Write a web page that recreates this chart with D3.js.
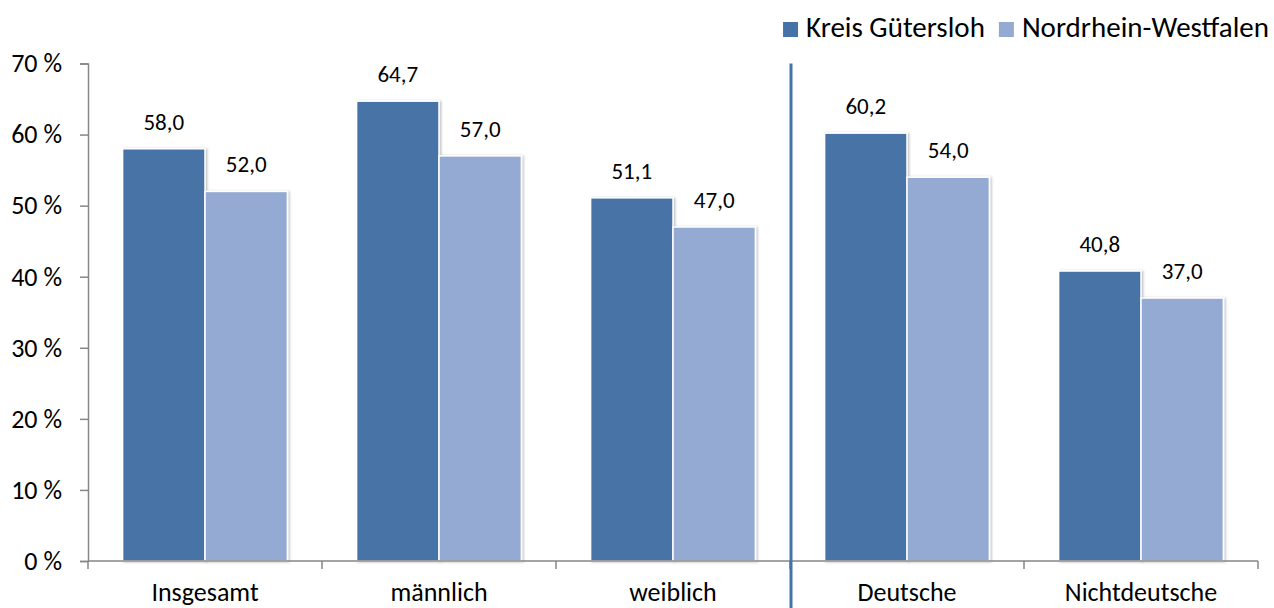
<!DOCTYPE html>
<html>
<head>
<meta charset="utf-8">
<script src="https://cdn.jsdelivr.net/npm/d3@7"></script>
<style>
  body { margin: 0; background: #fff; }
  svg { display: block; font-family: Carlito, Lato, "Open Sans", sans-serif; }
</style>
</head>
<body>
<svg id="chart" width="1274" height="608"></svg>
<script>
// data
const categories = ["Insgesamt", "männlich", "weiblich", "Deutsche", "Nichtdeutsche"];
const series = ["Kreis Gütersloh", "Nordrhein-Westfalen"];
const kreisValues = [58.0, 64.7, 51.1, 60.2, 40.8];
const nrwValues = [52.0, 57.0, 47.0, 54.0, 37.0];
const yTicks = [0, 10, 20, 30, 40, 50, 60, 70];

const colors = ["#4673a7", "#95aad2"];

const svg = d3.select("#chart");
const plotLeft = 88, plotRight = 1258, plotTop = 63.5, plotBottom = 561;

const x0 = d3.scaleBand().domain(categories).range([plotLeft, plotRight]);
const x1 = d3.scaleBand().domain(series).range([0, x0.bandwidth()]).paddingOuter(0.42);
const y = d3.scaleLinear().domain([0, 70]).range([plotBottom, plotTop]);

const rows = categories.map((c, i) => ({cat: c, vals: [kreisValues[i], nrwValues[i]]}));

// soft shadow like the excel bars
const defs = svg.append("defs");
const f = defs.append("filter").attr("id", "shadow")
  .attr("x", "-10%").attr("y", "-10%").attr("width", "130%").attr("height", "130%");
f.append("feDropShadow").attr("dx", 1.5).attr("dy", 0.5).attr("stdDeviation", 1.2)
  .attr("flood-color", "#000").attr("flood-opacity", 0.25);

// y axis
const yAxis = svg.append("g")
  .attr("transform", `translate(${plotLeft},0)`)
  .call(d3.axisLeft(y).tickValues(yTicks).tickSize(8).tickPadding(18)
    .tickFormat(d => d + " %"));
yAxis.select(".domain").attr("stroke", "#868686").attr("stroke-width", 1.5);
yAxis.selectAll(".tick line").attr("stroke", "#868686").attr("stroke-width", 1.5);
yAxis.selectAll(".tick text").attr("font-size", 26).attr("fill", "#000")
  .attr("font-family", "Carlito, Lato, sans-serif");

// bars
const groups = svg.append("g").selectAll("g")
  .data(rows).enter().append("g")
  .attr("transform", d => `translate(${x0(d.cat)},0)`);

groups.selectAll("rect")
  .data(d => d.vals.map((v, i) => ({s: series[i], v: v, i: i})))
  .enter().append("rect")
  .attr("x", d => x1(d.s))
  .attr("y", d => y(d.v))
  .attr("width", x1.bandwidth())
  .attr("height", d => y(0) - y(d.v))
  .attr("fill", d => colors[d.i])
  .attr("stroke", "#fff")
  .attr("stroke-width", 1.5)
  .attr("filter", "url(#shadow)");

groups.selectAll("text.val")
  .data(d => d.vals.map((v, i) => ({s: series[i], v: v})))
  .enter().append("text")
  .attr("class", "val")
  .attr("x", d => x1(d.s) + x1.bandwidth() / 2)
  .attr("y", d => y(d.v) - 19)
  .attr("text-anchor", "middle")
  .attr("font-size", 23)
  .text(d => d3.format(".1f")(d.v).replace(".", ","));

// x axis
svg.append("line")
  .attr("x1", plotLeft).attr("x2", plotRight)
  .attr("y1", plotBottom).attr("y2", plotBottom)
  .attr("stroke", "#868686").attr("stroke-width", 1.5);

svg.append("g").selectAll("line")
  .data(categories.map(c => x0(c)).concat([plotRight]))
  .enter().append("line")
  .attr("x1", d => d).attr("x2", d => d)
  .attr("y1", plotBottom).attr("y2", plotBottom + 8)
  .attr("stroke", "#868686").attr("stroke-width", 1.5);

svg.append("g").selectAll("text")
  .data(categories)
  .enter().append("text")
  .attr("x", d => x0(d) + x0.bandwidth() / 2)
  .attr("y", 601)
  .attr("text-anchor", "middle")
  .attr("font-size", 26)
  .text(d => d);

// separator between gender and nationality groups
const sepX = x0("Deutsche") + 1;
svg.append("line")
  .attr("x1", sepX).attr("x2", sepX)
  .attr("y1", y(70)).attr("y2", 608)
  .attr("stroke", colors[0]).attr("stroke-width", 3);

// legend, right aligned
const legend = svg.append("g");
let lx = 1269;
for (let i = series.length - 1; i >= 0; i--) {
  const t = legend.append("text")
    .attr("y", 37).attr("font-size", 29)
    .text(series[i]);
  const w = t.node().getComputedTextLength();
  lx -= w;
  t.attr("x", lx);
  lx -= 8 + 15;
  legend.append("rect")
    .attr("x", lx).attr("y", 22)
    .attr("width", 15).attr("height", 15)
    .attr("fill", colors[i]);
  lx -= 14;
}
</script>
</body>
</html>
